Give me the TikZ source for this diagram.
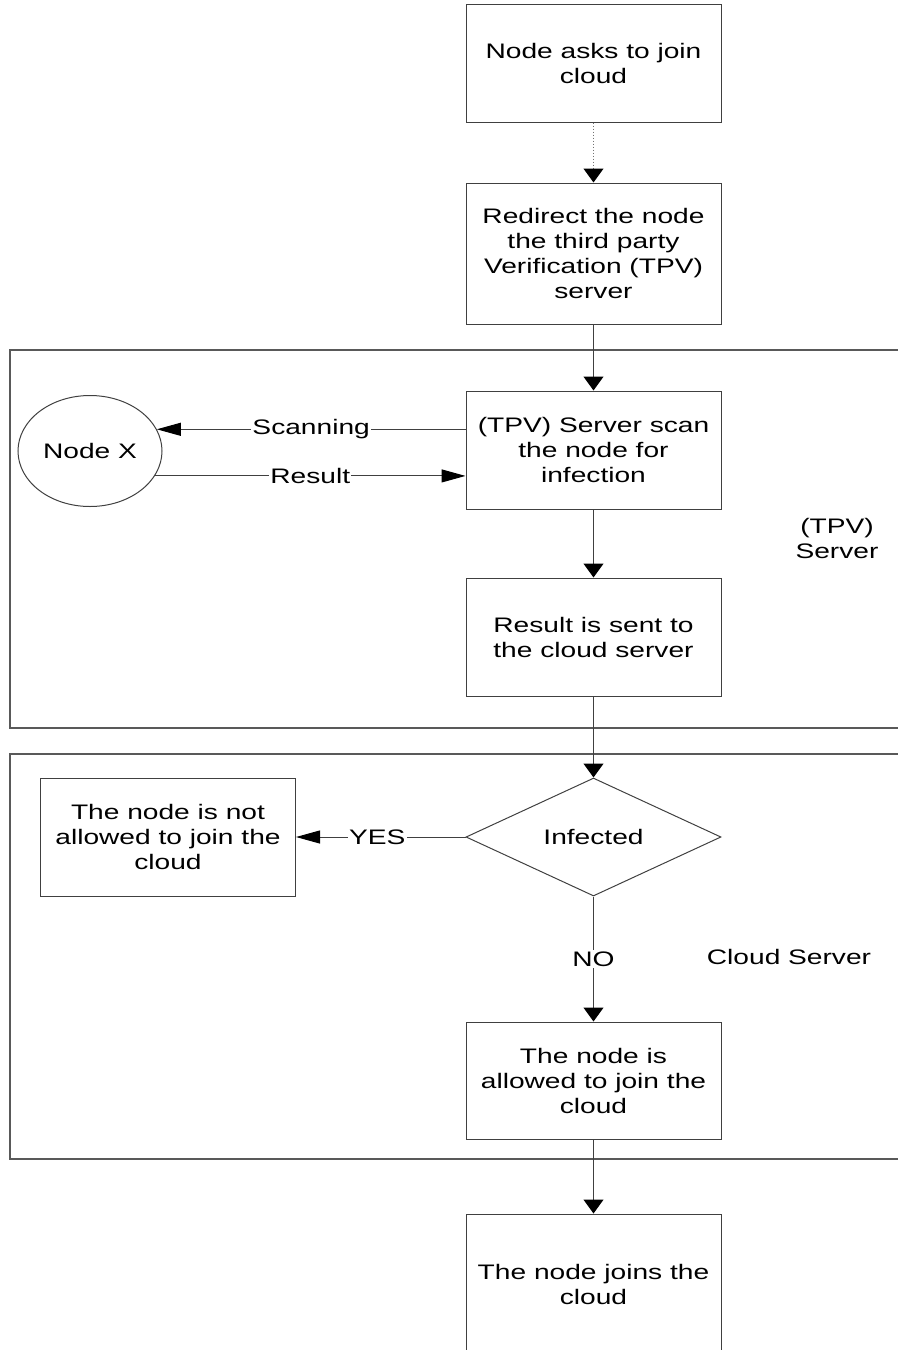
\documentclass[tikz,border=0pt]{standalone}
\usepackage{fontspec}
\setmainfont{Liberation Sans}[FakeStretch=1.34]
\usepackage{tikz}
\usetikzlibrary{shapes.geometric,arrows.meta}
\begin{document}
\begin{tikzpicture}[x=0.5pt,y=-0.5pt]
\tikzstyle{every node}+=[font=\fontsize{10.5}{12.5}\selectfont,inner sep=0pt]
\tikzstyle{stepbox}=[draw=black!75,line width=0.5pt,minimum width=127.5pt,align=center]
\tikzstyle{frame}=[draw=black!65,line width=0.6pt]
\tikzstyle{arr}=[draw=black!75,line width=0.5pt,-{Triangle[length=7pt,width=10pt,fill=black,black]}]
\tikzstyle{harr}=[draw=black!75,line width=0.5pt,-{Triangle[length=12pt,width=6.5pt,fill=black,black]}]
\tikzstyle{lbl}=[fill=white,inner sep=0.6pt]
\useasboundingbox (0,0) rectangle (898,1350);
\clip (0,0) rectangle (898,1350);
\draw[frame] (920,350) -- (10,350) -- (10,728) -- (920,728);
\draw[frame] (920,754) -- (10,754) -- (10,1159) -- (920,1159);
\node[stepbox,minimum height=59pt] (ask) at (593.5,63) {Node asks to join\\cloud};
\node[stepbox,minimum height=70.5pt] (redirect) at (593.5,253.5) {Redirect the node\\the third party\\Verification (TPV)\\server};
\node[stepbox,minimum height=59pt] (scan) at (593.5,450) {(TPV) Server scan\\the node for\\infection};
\node[draw=black!75,line width=0.5pt,ellipse,minimum width=72pt,minimum height=55.5pt] (nodex) at (90,451) {Node X};
\node[stepbox,minimum height=59pt] (sent) at (593.5,637) {Result is sent to\\the cloud server};
\node[align=center] (tpv) at (837,538) {(TPV)\\Server};
\node[draw=black!75,line width=0.5pt,diamond,minimum width=127.5pt,minimum height=59pt] (infected) at (593.5,837) {Infected};
\node[stepbox,minimum height=59pt] (denied) at (168,837) {The node is not\\allowed to join the\\cloud};
\node[stepbox,minimum height=58.5pt] (allowed) at (593.5,1080.5) {The node is\\allowed to join the\\cloud};
\node (cloudsrv) at (789,957) {Cloud Server};
\node[stepbox,minimum height=70pt] (joins) at (593.5,1284) {The node joins the\\cloud};
\draw[arr,densely dotted,draw=black!55] (ask) -- (redirect);
\draw[arr] (redirect) -- (scan);
\draw[harr] (scan.west |- nodex.18) -- node[lbl] {Scanning} (nodex.18);
\draw[harr] (nodex.-21) -- node[lbl] {Result} (scan.west |- nodex.-21);
\draw[arr] (scan) -- (sent);
\draw[arr] (sent) -- (infected);
\draw[harr] (infected) -- node[lbl,pos=0.52] {YES} (denied);
\draw[arr] (infected) -- node[lbl] {NO} (allowed);
\draw[arr] (allowed) -- (joins);
\end{tikzpicture}
\end{document}
